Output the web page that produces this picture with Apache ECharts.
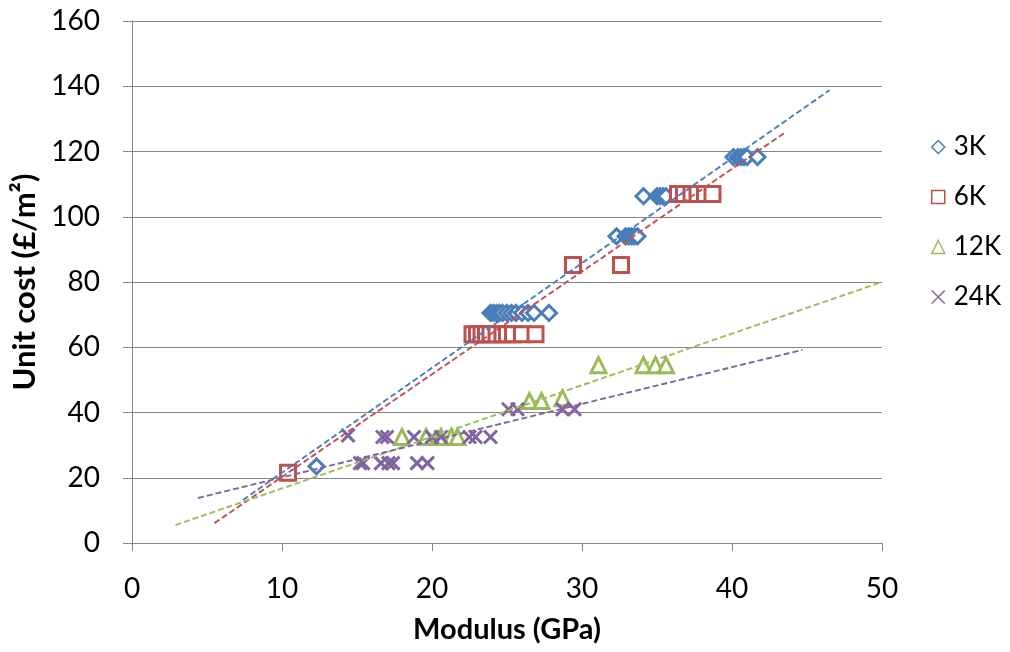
<!DOCTYPE html>
<html>
<head>
<meta charset="utf-8">
<script src="https://cdn.jsdelivr.net/npm/echarts@6/dist/echarts.min.js"></script>
<style>
  html, body { margin: 0; padding: 0; background: #fff; }
  #chart { width: 1010px; height: 652px; }
</style>
</head>
<body>
<div id="chart"></div>
<script>
// values
var x3K = [12.3, 23.9, 24.1, 24.3, 24.5, 24.7, 25.0, 25.3, 25.6, 26.0, 26.4, 26.8, 27.8, 32.3, 32.9, 33.1, 33.3, 33.5, 33.7, 34.1, 35.0, 35.2, 35.4, 35.6, 40.1, 40.4, 40.6, 40.8, 41.0, 41.7]
var y3K = [23.5, 70.5, 70.5, 70.5, 70.5, 70.5, 70.5, 70.5, 70.5, 70.5, 70.5, 70.5, 70.5, 94, 94, 94, 94, 94, 94, 106.3, 106.3, 106.3, 106.3, 106.3, 118.3, 118.3, 118.3, 118.3, 118.3, 118.3]

var x6K = [10.4, 22.7, 23.0, 23.3, 23.6, 23.9, 24.3, 24.7, 25.0, 25.4, 26.0, 26.9, 29.4, 32.6, 36.4, 36.8, 37.3, 37.7, 38.2, 38.7]
var y6K = [21.5, 64, 64, 64, 64, 64, 64, 64, 64, 64, 64, 64, 85.2, 85.2, 107, 107, 107, 107, 107, 107]

var x12K = [18.0, 19.6, 20.6, 21.3, 21.7, 26.5, 27.3, 28.7, 31.1, 34.1, 34.9, 35.6]
var y12K = [32.5, 32.5, 32.5, 32.5, 32.5, 43.5, 43.5, 44.4, 54.5, 54.5, 54.5, 54.5]

var x24K = [14.4, 16.7, 17.0, 18.8, 20.0, 20.6, 22.5, 22.9, 23.9, 15.2, 15.4, 16.6, 17.1, 17.4, 19.0, 19.7, 25.1, 25.7, 28.7, 29.5]
var y24K = [33, 32.5, 32.5, 32.5, 32.5, 32.5, 32.5, 32.5, 32.5, 24.5, 24.5, 24.5, 24.5, 24.5, 24.5, 24.5, 41, 41, 41, 41]

// dashed trendline ends (x, y) as seen on the picture
var trend3K = [[7.4, 13.2], [46.5, 138.8]]
var trend6K = [[5.5, 6.1], [43.5, 125.7]]
var trend12K = [[2.9, 5.5], [50, 80]]
var trend24K = [[4.4, 13.8], [44.7, 59.2]]

var seriesNames = ['3K', '6K', '12K', '24K']
var colors = ['#4A7EBB', '#C0504D', '#9BBB59', '#8064A2']

function pairs (xs, ys) {
  return xs.map(function (x, i) { return [x, ys[i]] })
}

var font = 'Lato, "Open Sans", sans-serif'
var cross = 'path://M0,0L10,10M10,0L0,10'

var chart = echarts.init(document.getElementById('chart'), null, { renderer: 'canvas' })

function markers (name, data, symbol, size, color) {
  return {
    name: name,
    type: 'scatter',
    data: data,
    symbol: symbol,
    symbolSize: size,
    itemStyle: { color: symbol === cross ? color : '#fff', borderColor: color, borderWidth: 3, opacity: 1 },
    z: 3
  }
}

function trend (data, color) {
  return {
    type: 'line',
    data: data,
    symbol: 'none',
    silent: true,
    lineStyle: { color: color, width: 1.9, type: [6, 3] },
    z: 4
  }
}

chart.setOption({
  animation: false,
  backgroundColor: '#fff',
  textStyle: { fontFamily: font },
  grid: { left: 132, right: 128, top: 21, bottom: 109 },
  legend: {
    orient: 'vertical',
    left: 926,
    top: 129,
    itemGap: 24,
    itemWidth: 13,
    itemHeight: 13,
    data: seriesNames.map(function (n) {
      return { name: n, itemStyle: { borderWidth: 1.5 } }
    }),
    textStyle: { fontFamily: font, fontSize: 26, lineHeight: 26, color: '#000', padding: [0, 0, 0, 4] }
  },
  xAxis: {
    type: 'value',
    min: 0,
    max: 50,
    interval: 10,
    name: 'Modulus (GPa)',
    nameLocation: 'middle',
    nameGap: 72,
    nameTextStyle: { fontFamily: font, fontSize: 29, fontWeight: 'bold', color: '#000' },
    axisLine: { show: true, lineStyle: { color: '#868686', width: 1 } },
    axisTick: { show: true, length: 8, inside: false, lineStyle: { color: '#868686' } },
    axisLabel: { fontFamily: font, fontSize: 28, color: '#000', margin: 32 },
    splitLine: { show: false }
  },
  yAxis: {
    type: 'value',
    min: 0,
    max: 160,
    interval: 20,
    name: 'Unit cost (£/m²)',
    nameLocation: 'middle',
    nameGap: 83,
    nameRotate: 90,
    nameTextStyle: { fontFamily: font, fontSize: 31, fontWeight: 'bold', color: '#000' },
    axisLine: { show: true, lineStyle: { color: '#868686', width: 1 } },
    axisTick: { show: true, length: 9, lineStyle: { color: '#868686' } },
    axisLabel: { fontFamily: font, fontSize: 28, color: '#000', margin: 32 },
    splitLine: { show: true, lineStyle: { color: '#868686', width: 1 } }
  },
  series: [
    markers('3K', pairs(x3K, y3K), 'diamond', 15, colors[0]),
    markers('6K', pairs(x6K, y6K), 'rect', 15, colors[1]),
    markers('12K', pairs(x12K, y12K), 'triangle', 15, colors[2]),
    markers('24K', pairs(x24K, y24K), cross, 13, colors[3]),
    trend(trend3K, colors[0]),
    trend(trend6K, colors[1]),
    trend(trend12K, colors[2]),
    trend(trend24K, colors[3])
  ]
})
</script>
</body>
</html>
